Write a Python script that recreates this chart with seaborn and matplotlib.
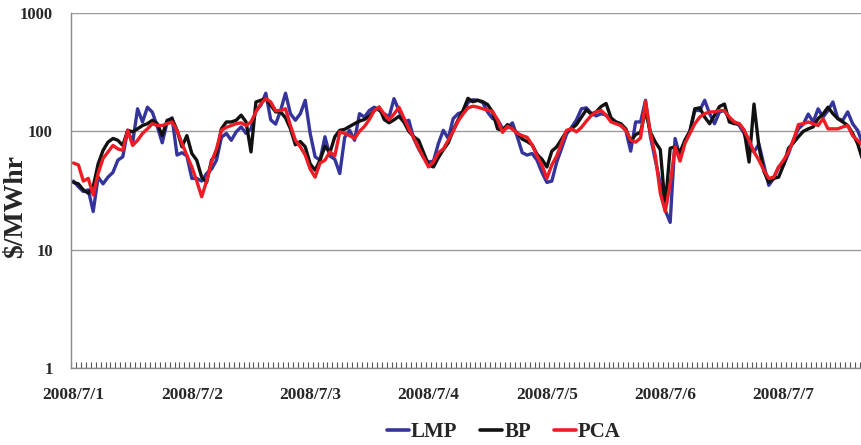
import numpy as np
import pandas as pd
import matplotlib
matplotlib.use("Agg")
import matplotlib.pyplot as plt
import seaborn as sns

# Hourly prices ($/MWhr), 2008/7/1 00:00 onward
lmp = [38, 34, 31, 32, 21, 41, 36, 41, 45, 57, 61, 102, 80, 155, 120, 160, 145, 110, 80, 120, 130, 63, 66, 62, 40, 40, 38,
       44, 48, 57, 89, 96, 84, 99, 109, 96, 105, 150, 166, 210, 125, 115, 150, 210, 141, 124, 141, 183, 96, 61, 57, 90, 62, 58,
       44, 89, 102, 84, 141, 132, 150, 160, 150, 141, 132, 189, 150, 120, 124, 87, 71, 60, 55, 56, 79, 102, 87, 128, 141, 146, 175,
       185, 183, 175, 145, 128, 125, 106, 107, 118, 90, 66, 63, 65, 57, 45, 37, 38, 55, 72, 95, 108, 125, 155, 158, 142, 135,
       141, 137, 124, 120, 112, 102, 68, 120, 120, 183, 90, 57, 36, 21.5, 17, 87, 61, 84, 100, 150, 150, 183, 141, 116, 146, 150, 128,
       120, 112, 96, 74, 67, 78, 52, 35, 40, 50, 52, 65, 85, 105, 115, 140, 120, 155, 132, 150, 177, 128, 124, 146, 116, 102, 80]

bp = [37, 36, 32, 30, 34, 53, 69, 81, 87, 84, 76, 102, 99, 105, 112, 116, 124, 116, 92, 124, 128, 102, 74, 92, 65, 57, 41,
      37, 57, 65, 105, 120, 120, 124, 137, 120, 67, 177, 183, 189, 166, 146, 146, 130, 105, 77, 82, 74, 53, 47, 57, 75, 66, 90,
      102, 104, 110, 116, 122, 126, 135, 150, 160, 126, 118, 125, 134, 120, 100, 90, 84, 66, 52, 50, 60, 70, 80, 102, 125, 150, 190,
      178, 183, 178, 168, 145, 105, 102, 114, 105, 97, 86, 82, 77, 64, 58, 50, 68, 74, 86, 100, 105, 114, 132, 152, 140, 146,
      162, 172, 130, 120, 116, 105, 82, 94, 98, 150, 98, 81, 70, 23, 72, 74, 67, 84, 100, 155, 158, 132, 116, 137, 162, 170, 120,
      116, 116, 102, 55, 170, 74, 46, 37, 40, 41, 52, 72, 80, 90, 100, 105, 109, 128, 140, 160, 141, 128, 120, 112, 96, 79, 58]

pca = [54, 52, 38, 40, 29, 44, 59, 67, 76, 71, 69, 102, 76, 84, 96, 105, 116, 112, 112, 116, 120, 102, 79, 63, 50, 38, 28,
       38, 55, 71, 102, 108, 112, 116, 118, 112, 120, 146, 171, 189, 177, 149, 150, 155, 112, 84, 74, 63, 48, 41, 54, 57, 67, 62,
       99, 96, 92, 87, 100, 110, 126, 150, 160, 140, 125, 140, 160, 130, 105, 88, 72, 60, 50, 55, 66, 71, 84, 100, 122, 140, 158,
       163, 160, 155, 151, 147, 125, 98, 110, 105, 96, 92, 89, 77, 62, 52, 40, 52, 62, 80, 102, 105, 99, 108, 122, 136, 146,
       150, 137, 120, 116, 112, 102, 84, 81, 88, 180, 96, 62, 30, 21, 36, 74, 56, 79, 96, 116, 132, 141, 146, 146, 150, 150, 132,
       120, 116, 102, 84, 67, 57, 47, 40, 41, 50, 57, 67, 84, 114, 116, 120, 116, 112, 128, 105, 105, 105, 109, 112, 92, 84, 76]

series_names = ["LMP", "BP", "PCA"]
series_colors = ["#34349c", "#111111", "#ee1c24"]
day_labels = ["2008/7/1", "2008/7/2", "2008/7/3", "2008/7/4", "2008/7/5", "2008/7/6", "2008/7/7"]
y_ticks = [1, 10, 100, 1000]

hours = np.arange(len(lmp))
df = pd.concat([
    pd.DataFrame({"hour": hours, "price": vals, "series": name})
    for name, vals in zip(series_names, [lmp, bp, pca])
], ignore_index=True)

sns.set_theme(style="white")
plt.rcParams["font.family"] = ["Liberation Serif", "DejaVu Serif"]
plt.rcParams["font.weight"] = "bold"

fig = plt.figure(figsize=(8.62, 4.45), dpi=100)
ax = fig.add_axes([71 / 862, 1 - 368 / 445, 791 / 862, (368 - 13) / 445])

sns.lineplot(data=df, x="hour", y="price", hue="series", hue_order=series_names,
             palette=dict(zip(series_names, series_colors)), linewidth=2.4,
             ax=ax, legend=False, estimator=None, sort=False)

ax.set_yscale("log")
ax.set_ylim(1, 1000)
ax.set_xlim(-0.5, 159.9)

ax.set_yticks(y_ticks)
ax.set_yticklabels([str(t) for t in y_ticks], fontsize=12, fontweight="bold")
ax.yaxis.set_minor_locator(matplotlib.ticker.NullLocator())
ax.tick_params(axis="y", which="both", length=0, pad=13)
ax.grid(axis="y", which="major", color="#9a9a9a", linewidth=1.0)
ax.set_axisbelow(True)

ax.set_xticks([24 * k for k in range(len(day_labels))])
ax.set_xticklabels(day_labels, fontsize=12.5, fontweight="bold")
ax.set_xticks(np.arange(-0.5, 160.5, 1.0), minor=True)
ax.tick_params(axis="x", which="major", length=0, pad=14)
ax.tick_params(axis="x", which="minor", direction="in", length=4, width=0.8,
               color="#555555", bottom=True)

for side in ["top", "right"]:
    ax.spines[side].set_visible(False)
for side in ["left", "bottom"]:
    ax.spines[side].set_color("#8a8a8a")
    ax.spines[side].set_linewidth(1.0)

ax.set_xlabel("")
ax.set_ylabel("")
fig.text(16 / 862, 1 - 206 / 445, "$/MWhr", rotation=90, ha="center", va="center",
         fontsize=20, fontweight="bold")

handles = [matplotlib.lines.Line2D([], [], color=c, linewidth=2.6) for c in series_colors]
fig.legend(handles, series_names, loc="center", bbox_to_anchor=(504 / 862, 1 - 432 / 445),
           ncol=3, frameon=False, handlelength=1.05, handletextpad=0.1, columnspacing=1.1,
           prop={"family": "Liberation Serif", "weight": "bold", "size": 15})

fig.savefig("out.png", dpi=100)
